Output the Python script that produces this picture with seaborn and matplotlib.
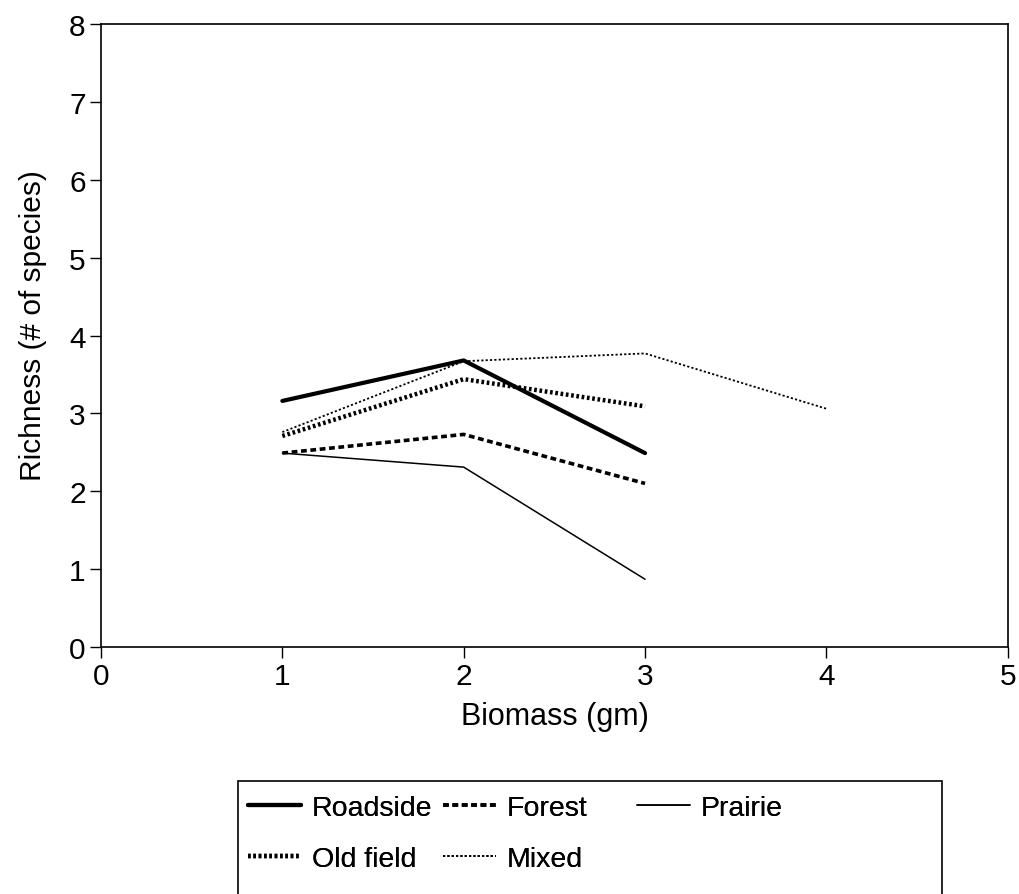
import matplotlib
matplotlib.use("Agg")
import matplotlib.pyplot as plt
from matplotlib.patches import Rectangle
import seaborn as sns
import pandas as pd

sns.set_theme(style="white")
plt.rcParams['font.family'] = ['Liberation Sans', 'DejaVu Sans']

series_names = ["Roadside", "Old field", "Forest", "Mixed", "Prairie"]
roadside_x = [1, 2, 3]
roadside_y = [3.16, 3.68, 2.49]
oldfield_x = [1, 2, 3]
oldfield_y = [2.71, 3.44, 3.09]
forest_x = [1, 2, 3]
forest_y = [2.49, 2.73, 2.10]
mixed_x = [1, 2, 3, 4]
mixed_y = [2.76, 3.67, 3.77, 3.06]
prairie_x = [1, 2, 3]
prairie_y = [2.49, 2.31, 0.87]

xs = [roadside_x, oldfield_x, forest_x, mixed_x, prairie_x]
ys = [roadside_y, oldfield_y, forest_y, mixed_y, prairie_y]
styles = {
    "Roadside": dict(linestyle="-", linewidth=3.0),
    "Old field": dict(linestyle=(0, (0.6, 0.6)), linewidth=3.2),
    "Forest": dict(linestyle=(0, (1.6, 1.0)), linewidth=2.6),
    "Mixed": dict(linestyle=(0, (1.2, 1.2)), linewidth=1.3),
    "Prairie": dict(linestyle="-", linewidth=1.1),
}

fig = plt.figure(figsize=(10.2, 8.95), dpi=100)
ax = fig.add_axes([0.099, 0.276, 0.889, 0.696])

handles = {}
for name, x, y in zip(series_names, xs, ys):
    df = pd.DataFrame({"x": x, "y": y})
    sns.lineplot(data=df, x="x", y="y", ax=ax, color="black", label=name,
                 legend=False, **styles[name])
    handles[name] = ax.get_lines()[-1]

ax.set_xlim(0, 5)
ax.set_ylim(0, 8)
ax.set_xticks(range(0, 6))
ax.set_yticks(range(0, 9))
ax.set_xlabel("Biomass (gm)", fontsize=22, color="black")
ax.set_ylabel("Richness (# of species)", fontsize=21.5, color="black")
ax.xaxis.set_label_coords(0.5006, -0.087)
ax.yaxis.set_label_coords(-0.059, 0.517)
ax.tick_params(axis="both", which="major", labelsize=21.5, colors="black",
               direction="out", length=8, width=1, left=True, bottom=True, pad=3)
for s in ax.spines.values():
    s.set_color("black")
    s.set_linewidth(1.2)

# legend frame (runs off the bottom of the figure as in the reference)
fig.patches.append(Rectangle((238 / 1020, -0.05), (942 - 238) / 1020,
                             (1 - 782 / 895) + 0.05, transform=fig.transFigure,
                             fill=False, edgecolor="black", linewidth=1.2))

columns = [(["Roadside", "Old field"], 248), (["Forest", "Mixed"], 443),
           (["Prairie"], 637)]
for names, xpix in columns:
    leg = fig.legend([handles[n] for n in names], names, loc="upper left",
                     bbox_to_anchor=(xpix / 1020, 1 - 796 / 895),
                     frameon=False, fontsize=20.5, handlelength=1.85,
                     handletextpad=0.39, borderpad=0, borderaxespad=0,
                     labelspacing=0.89)
    for t in leg.get_texts():
        t.set_color("black")
    fig.add_artist(leg)

fig.savefig("out.png", dpi=100, facecolor="white")
